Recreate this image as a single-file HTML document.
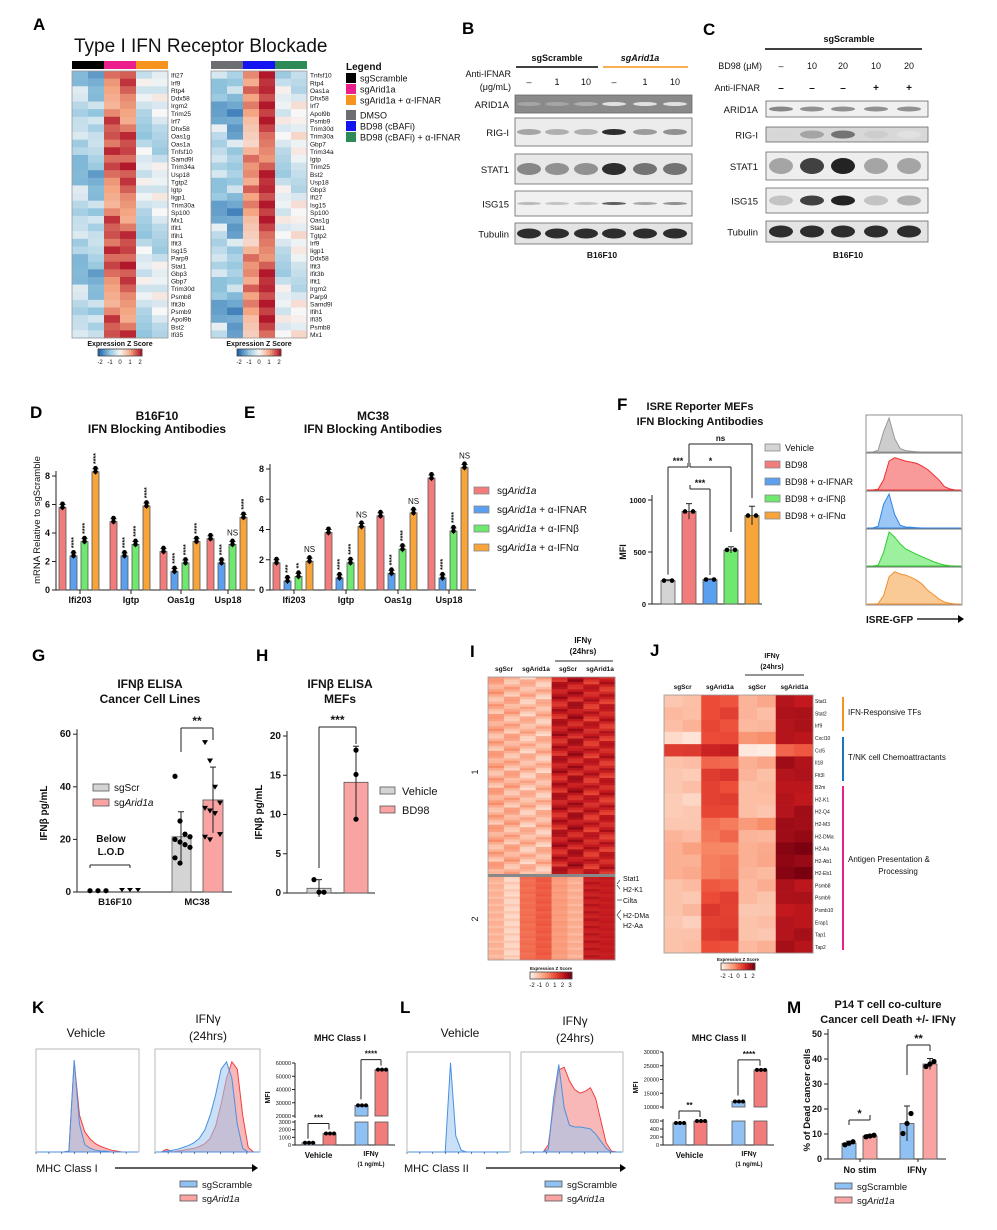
<!DOCTYPE html>
<html><head><meta charset="utf-8">
<style>
html,body{margin:0;padding:0;background:#fff;}
svg{display:block;font-family:"Liberation Sans",Arial,sans-serif;}
</style></head>
<body>
<svg id="fig" width="997" height="1230" viewBox="0 0 997 1230" xmlns="http://www.w3.org/2000/svg">
<g font-weight="bold" font-size="17">
<text x="33" y="30">A</text><text x="462" y="34">B</text><text x="703" y="35">C</text>
<text x="30" y="418">D</text><text x="244" y="418">E</text><text x="617" y="410">F</text>
<text x="32" y="661">G</text><text x="256" y="661">H</text><text x="470" y="657">I</text>
<text x="650" y="656">J</text><text x="32" y="1013">K</text><text x="400" y="1013">L</text><text x="787" y="1013">M</text>
</g>
<g id="root"></g>
</svg>
<script>
// ---------------- DATA ----------------
const A_left_genes=["Ifi27","Irf9","Rtp4","Ddx58","Irgm2","Trim25","Irf7","Dhx58","Oas1g","Oas1a","Tnfsf10","Samd9l","Trim34a","Usp18","Tgtp2","Igtp","Iigp1","Trim30a","Sp100","Mx1","Ifit1","Ifih1","Ifit3","Isg15","Parp9","Stat1","Gbp3","Gbp7","Trim30d","Psmb8","Ifit3b","Psmb9","Apol9b","Bst2","Ifi35"];
const A_right_genes=["Tnfsf10","Rtp4","Oas1a","Dhx58","Irf7","Apol9b","Psmb9","Trim30d","Trim30a","Gbp7","Trim34a","Igtp","Trim25","Bst2","Usp18","Gbp3","Ifi27","Isg15","Sp100","Oas1g","Stat1","Tgtp2","Irf9","Iigp1","Ddx58","Ifit3","Ifit3b","Ifit1","Irgm2","Parp9","Samd9l","Ifih1","Ifi35","Psmb8","Mx1"];
const A_left_colBase=[-0.8,-0.9,1.3,1.4,-0.5,-0.4];
const A_right_colBase=[-0.9,-1.1,0.9,1.6,-0.4,-0.2];
const A_jitter=[0.3,-0.4,0.1,0.5,-0.2,0.0,-0.5,0.4,0.2,-0.3,0.6,-0.1,0.1];
const I_c1_colBase=[-0.7,-0.8,-1.0,-1.0,1.9,2.0,1.7,1.7];
const I_c2_colBase=[-1.0,-1.1,0.7,0.6,-0.8,-0.9,2.3,2.2];
const I_jitter=[0.4,-0.3,0.6,-0.5,0.1,0.3,-0.2,0.5,-0.6,0.2,0.0,-0.4,0.7,-0.1,0.3];
const J_genes=["Stat1","Stat2","Irf9","Cxcl10","Ccl5","Il18","Flt3l","B2m","H2-K1","H2-Q4","H2-M3","H2-DMa","H2-Aa","H2-Ab1","H2-Eb1","Psmb8","Psmb9","Psmb10","Erap1","Tap1","Tap2"];
const J_sgScr=[-1.2,-0.9,-1.0,-1.6,1.3,-1.1,-1.2,-1.2,-1.3,-1.3,-1.2,-0.8,-0.7,-0.7,-0.7,-1.1,-1.1,-1.1,-1.2,-1.1,-1.1];
const J_sgArid=[1.0,1.0,1.1,1.0,1.8,0.6,1.3,1.2,1.2,1.1,0.4,0.3,0.1,0.2,0.2,0.8,1.0,1.4,1.2,1.3,1.0];
const J_ifnScr=[-0.8,-0.8,-0.9,-0.2,-1.9,-0.7,-0.8,-1.0,-1.0,-1.0,-0.3,-0.8,-0.7,-0.7,-0.8,-0.9,-0.9,-1.2,-1.1,-1.1,-0.9];
const J_ifnArid=[2.2,2.3,2.2,2.2,0.6,2.5,2.2,2.1,2.2,2.2,2.5,2.5,2.8,2.7,2.8,2.3,2.3,2.0,2.2,2.2,2.4];
// D / E
const D_genes=["Ifi203","Igtp","Oas1g","Usp18"];
const D_arid=[5.8,4.8,2.7,3.6], D_ifnar=[2.4,2.4,1.3,1.9], D_ifnb=[3.4,3.2,1.9,3.2], D_ifna=[8.3,5.9,3.4,5.1];
const E_arid=[1.8,3.8,4.9,7.4], E_ifnar=[0.6,0.8,1.1,0.8], E_ifnb=[0.9,1.8,2.7,3.9], E_ifna=[1.9,4.2,5.1,8.1];
const D_sig=[["****","****","****"],["****","****","****"],["****","****","****"],["****","NS","****"]];
const E_sig=[["***","**","NS"],["****","****","NS"],["****","****","NS"],["****","****","NS"]];
const yTicks8=[0,2,4,6,8];
// F
const F_groups=["Vehicle","BD98","BD98 + α-IFNAR","BD98 + α-IFNβ","BD98 + α-IFNα"];
const F_mfi=[225,890,235,520,850];
const F_err=[8,75,6,30,90];
const F_ticks=[0,500,1000];
// G
const G_cells=["B16F10","MC38"];
const G_scr=[0.5,21], G_arid=[0.5,35], G_scrSd=[0,9.5], G_aridSd=[0,12.5];
const G_ticks=[0,20,40,60];
// H
const H_groups=["Vehicle","BD98"], H_vals=[0.6,14.1], H_sd=[1.1,4.6], H_ticks=[0,5,10,15,20];
// K / L / M
const K_scr=[300,28000], K_arid=[1500,55000];
const L_scr=[550,12000], L_arid=[600,23500];
const M_scr=[6.3,14.2], M_arid=[9.2,38.0], M_scrSd=[0.8,7], M_aridSd=[0.6,2.2], M_ticks=[0,10,20,30,40,50];
// histogram shapes (relative counts along x bins)
const H_Kveh_scr=[0,0,0,0,0,0,1,100,30,8,4,2,1,1,0,0,0,0,0,0];
const H_Kveh_arid=[0,0,0,0,0,0,1,98,40,22,14,9,6,4,2,1,0,0,0,0];
const H_Kifn_scr=[0,0,1,2,3,5,7,10,15,24,40,62,90,98,80,30,4,0,0,0];
const H_Kifn_arid=[0,0,3,0,1,2,3,4,6,9,15,28,52,80,98,90,40,5,0,0];
const H_Lveh=[0,0,0,0,0,0,0,0,100,18,2,0,0,0,0,0,0,0,0,0];
const H_Lifn_scr=[0,0,0,0,0,3,60,98,50,30,28,28,27,26,20,12,4,0,0,0];
const H_Lifn_arid=[0,0,0,0,0,8,50,92,95,80,70,66,68,72,60,35,10,1,0,0];
const H_F=[[0,0,5,60,100,40,10,4,2,1,0,0,0,0,0,0,0,0],[0,0,2,30,85,95,90,85,82,78,70,60,45,30,10,3,0,0],[0,0,5,70,100,40,8,3,2,1,0,0,0,0,0,0,0,0],[0,0,2,40,100,85,65,50,42,34,27,20,13,7,3,1,0,0],[0,0,1,25,80,95,88,85,78,70,58,40,28,15,6,2,0,0]];

// ---------------- HELPERS ----------------
const NS="http://www.w3.org/2000/svg";
const root=document.getElementById('root');
function mk(tag,attrs,name,parent,txt){
  const el=document.createElementNS(NS,tag);
  for(const k in attrs) el.setAttribute(k,attrs[k]);
  
  
  if(txt!==undefined) el.textContent=txt;
  (parent||root).appendChild(el);
  return el;
}
function txt(x,y,s,name,o){o=o||{};return mk('text',Object.assign({x:x,y:y,'font-size':o.fs||10,'text-anchor':o.a||'start','font-weight':o.b?'bold':'normal',fill:o.fill||'#111','font-style':o.i?'italic':'normal'},o.tr?{transform:o.tr}:{}),name,o.p,s);}
function line(x1,y1,x2,y2,name,st,w){return mk('line',{x1:x1,y1:y1,x2:x2,y2:y2,stroke:st||'#222','stroke-width':w||1},name);}
function rect(x,y,w,h,fill,name,st){const a={x:x,y:y,width:w,height:h,fill:fill};if(st){a.stroke=st;a['stroke-width']=0.8;}return mk('rect',a,name);}
function lerpC(stops,v){
  if(v<=stops[0][0])return 'rgb('+stops[0][1].join(',')+')';
  for(let i=1;i<stops.length;i++){if(v<=stops[i][0]){const t=(v-stops[i-1][0])/(stops[i][0]-stops[i-1][0]);const a=stops[i-1][1],b=stops[i][1];return 'rgb('+[0,1,2].map(k=>Math.round(a[k]+(b[k]-a[k])*t)).join(',')+')';}}
  return 'rgb('+stops[stops.length-1][1].join(',')+')';
}
const DIV=[[-2,[33,102,172]],[-1,[146,197,222]],[0,[247,247,247]],[1,[244,165,130]],[2,[178,24,43]]];
const RED=[[-2,[254,236,226]],[-1,[252,190,165]],[0,[248,140,105]],[1,[235,75,55]],[2,[195,25,30]],[3,[120,0,15]]];
function colorbar(x,y,w,stops,lo,hi,labels,name){
  const n=20;for(let i=0;i<n;i++){rect(x+i*w/n,y,w/n+0.3,7,lerpC(stops,lo+(hi-lo)*i/(n-1)),name+'-cell');}
  rect(x,y,w,7,'none',name+'-frame','#444');
  labels.forEach((l,i)=>txt(x+2+i*(w-4)/(labels.length-1),y+15,l,name+'-tick',{fs:6,a:'middle'}));
}

// ---------------- PANEL A ----------------
txt(74,52,"Type I IFN Receptor Blockade","a-title",{fs:19});
function heatA(x0,base,genes,hdr,nm){
  const cw=16,rh=(338-71)/35;
  hdr.forEach((c,i)=>rect(x0+i*32,61,32,8,c,nm+'-group-bar'));
  genes.forEach((g,r)=>{base.forEach((b,c)=>{
    const v=b+A_jitter[(r*5+c*3+(nm.length))%A_jitter.length]+ (c<2? A_jitter[(r+c)%13]*0.6:0);
    rect(x0+c*cw,71+r*rh,cw+0.3,rh+0.3,lerpC(DIV,v),nm+'-cell');});
    txt(x0+99,71+r*rh+rh-1,g,nm+'-gene-label',{fs:6.5});});
  rect(x0,71,96,267,'none',nm+'-frame','#999');
  txt(x0+48,346,"Expression Z Score",nm+'-cbar-title',{fs:7,b:1,a:'middle'});
  colorbar(x0+26,349,44,DIV,-2,2,["-2","-1","0","1","2"],nm+'-colorbar');
}
heatA(72,A_left_colBase,A_left_genes,["#000","#ec1e8c","#f7941d"],'a-left');
heatA(211,A_right_colBase,A_right_genes,["#6d6e71","#1414f0","#2e8b57"],'a-right');
txt(346,70,"Legend","a-legend-title",{fs:10,b:1});
[["#000","sgScramble"],["#ec1e8c","sgArid1a"],["#f7941d","sgArid1a + α-IFNAR"],["#6d6e71","DMSO"],["#1414f0","BD98 (cBAFi)"],["#2e8b57","BD98 (cBAFi) + α-IFNAR"]].forEach((e,i)=>{
  const y=73+i*11+(i>2?4:0);rect(346,y,10,10,e[0],'a-legend-swatch');txt(360,y+8.5,e[1],'a-legend-entry',{fs:9});});

// ---------------- PANEL B / C (blots) ----------------
function band(x,y,w,h,dark,nm){const c=Math.round(235-dark*200);mk('ellipse',{cx:x+w/2,cy:y+h/2,rx:w/2,ry:h/2,fill:'rgb('+c+','+c+','+c+')'},nm);}
function blot(x,y,w,h,bg,lanes,dk,bh,nm){rect(x,y,w,h,bg,nm+'-blot','#666');lanes.forEach((lx,i)=>{if(dk[i]>0.02)band(lx-12,y+h/2-bh/2,24,bh,dk[i],nm+'-band');});}
const B_lanes=[529,557,586,614,645,675];
txt(557,61,"sgScramble","b-group-label",{fs:9,b:1,a:'middle'});line(516,67,598,67,'b-group-line','#000',1.5);
txt(640,61,"sgArid1a","b-group-label",{fs:9,b:1,a:'middle',i:1});line(603,67,688,67,'b-group-line','#f7941d',1.5);
txt(511,77,"Anti-IFNAR","b-treatment-label",{fs:9,a:'end'});txt(511,90,"(μg/mL)","b-treatment-unit",{fs:9,a:'end'});
["–","1","10","–","1","10"].forEach((s,i)=>txt(B_lanes[i],85,s,'b-lane-label',{fs:9,a:'middle'}));
const Brows=[["ARID1A",95,18,"#8a8a8a",[0.35,0.35,0.3,0.05,0.05,0.05],4],["RIG-I",118,28,"#ececec",[0.35,0.3,0.3,0.95,0.4,0.45],6],["STAT1",154,30,"#e8e8e8",[0.5,0.45,0.45,0.95,0.6,0.6],12],["ISG15",191,25,"#f0f0f0",[0.25,0.2,0.2,0.7,0.35,0.45],3],["Tubulin",223,21,"#e4e4e4",[0.95,0.95,0.95,0.95,0.95,0.95],10]];
Brows.forEach(r=>{txt(509,r[1]+r[2]/2+4,r[0],'b-row-label',{fs:9.5,a:'end'});blot(515,r[1],177,r[2],r[3],B_lanes,r[4],r[5],'b-'+r[0].toLowerCase());});
txt(602,258,"B16F10","b-cell-line",{fs:8.5,b:1,a:'middle'});
const C_lanes=[781,812,843,876,909];
txt(849,42,"sgScramble","c-group-label",{fs:9,b:1,a:'middle'});line(765,49,922,49,'c-group-line','#000',1.5);
txt(762,69,"BD98 (μM)","c-treat1",{fs:9,a:'end'});txt(760,91,"Anti-IFNAR","c-treat2",{fs:9,a:'end'});
["–","10","20","10","20"].forEach((s,i)=>txt(C_lanes[i],69,s,'c-lane-dose',{fs:9,a:'middle'}));
["–","–","–","+","+"].forEach((s,i)=>txt(C_lanes[i],91,s,'c-lane-ifnar',{fs:10,a:'middle',b:1}));
const Crows=[["ARID1A",101,16,"#f0f0f0",[0.5,0.45,0.45,0.45,0.45],5],["RIG-I",127,15,"#d8d8d8",[0.1,0.35,0.6,0.15,0.05],8],["STAT1",152,28,"#eeeeee",[0.35,0.85,1.0,0.35,0.35],16],["ISG15",188,25,"#eeeeee",[0.2,0.85,1.0,0.2,0.3],10],["Tubulin",221,21,"#e4e4e4",[0.95,0.95,0.95,0.95,0.95],12]];
Crows.forEach(r=>{txt(758,r[1]+r[2]/2+4,r[0],'c-row-label',{fs:9.5,a:'end'});blot(766,r[1],162,r[2],r[3],C_lanes,r[4],r[5],'c-'+r[0].toLowerCase());});
txt(848,258,"B16F10","c-cell-line",{fs:8.5,b:1,a:'middle'});

// ---------------- bar helpers ----------------
const COL={pink:"#f27b7b",blue:"#5aa0ee",green:"#6ee86e",orange:"#f7a53b",gray:"#d4d4d4",lpink:"#f9a3a3",lblue:"#8fc1f4"};
function yaxis(x,y0,sc,ticks,nm,fs){line(x,sc(ticks[ticks.length-1])-5,x,y0,nm+'-line');ticks.forEach(t=>{line(x-4,sc(t),x,sc(t),nm+'-tick');txt(x-6,sc(t)+3,String(t),nm+'-label',{fs:fs||9,a:'end',b:1});});}
function bar(x,w,v,sc,y0,fill,nm){return rect(x,sc(v),w,y0-sc(v),fill,nm,'#555');}
function dot(x,y,nm,r){mk('circle',{cx:x,cy:y,r:r||2.6,fill:'#000'},nm);}
function errb(x,v,sd,sc,nm){line(x,sc(v-sd),x,sc(v+sd),nm);line(x-3,sc(v+sd),x+3,sc(v+sd),nm);}
function bracket(x1,x2,y,yl1,yl2,s,nm,fs){line(x1,yl1,x1,y,nm);line(x1,y,x2,y,nm);line(x2,y,x2,yl2,nm);txt((x1+x2)/2,y-3,s,nm+'-label',{fs:fs||11,a:'middle',b:1});}

// ---------------- PANEL D / E ----------------
function groupedChart(ax,y0,top8,starts,series,sigs,nm,title1,title2,tx){
  const sc=v=>y0-(y0-top8)*v/8;
  txt(tx,433-13,title1,nm+'-title',{fs:12,b:1,a:'middle'});txt(tx,433,title2,nm+'-title',{fs:12,b:1,a:'middle'});
  yaxis(ax,y0,sc,yTicks8,nm+'-y-axis',9);
  line(ax,y0,starts[3]+48,y0,nm+'-x-axis');
  const cols=[COL.pink,COL.blue,COL.green,COL.orange];
  D_genes.forEach((g,gi)=>{
    series.forEach((s,si)=>{const x=starts[gi]+si*11;bar(x,7,s[gi],sc,y0,cols[si],nm+'-bar-'+g);
      errb(x+3.5,s[gi],0.2,sc,nm+'-error');dot(x+3.5,sc(s[gi]),nm+'-point',2.3);dot(x+3.5,sc(s[gi]+0.25),nm+'-point',2.3);
      if(si>0){const lab=sigs[gi][si-1];if(lab==="NS")txt(x+3.5,sc(s[gi]+0.4)-3,lab,nm+'-sig',{fs:8,a:'middle'});else txt(x+6,sc(s[gi]+0.4)-2,lab,nm+'-sig',{fs:7,b:1,tr:'rotate(-90 '+(x+6)+' '+(sc(s[gi]+0.4)-2)+')'});}});
    line(starts[gi]+21,y0,starts[gi]+21,y0+4,nm+'-x-tick');
    txt(starts[gi]+21,y0+13,g,nm+'-x-label',{fs:9,b:1,a:'middle'});});
}
txt(40,520,"mRNA Relative to sgScramble","d-y-axis-title",{fs:9.5,a:'middle',tr:'rotate(-90 40 520)'});
groupedChart(56,590,476,[59,110,160,207],[D_arid,D_ifnar,D_ifnb,D_ifna],D_sig,'d',"B16F10","IFN Blocking Antibodies",157);
groupedChart(270,590,469,[273,325,377,428],[E_arid,E_ifnar,E_ifnb,E_ifna],E_sig,'e',"MC38","IFN Blocking Antibodies",373);
[[COL.pink,"sgArid1a"],[COL.blue,"sgArid1a + α-IFNAR"],[COL.green,"sgArid1a + α-IFNβ"],[COL.orange,"sgArid1a + α-IFNα"]].forEach((e,i)=>{
  rect(474,487+i*19,15,7,e[0],'de-legend-swatch','#888');const t=txt(497,494+i*19,"sg",'de-legend-entry',{fs:10});
  const ts=document.createElementNS(NS,'tspan');ts.setAttribute('font-style','italic');ts.textContent="Arid1a";t.appendChild(ts);
  const ts2=document.createElementNS(NS,'tspan');ts2.textContent=e[1].slice(8);t.appendChild(ts2);});

// ---------------- PANEL F ----------------
txt(700,410,"ISRE Reporter MEFs","f-title",{fs:11,b:1,a:'middle'});txt(700,425,"IFN Blocking Antibodies","f-title",{fs:11,b:1,a:'middle'});
(function(){const y0=604,sc=v=>y0-v*0.104;yaxis(652,y0,sc,F_ticks,'f-y-axis',7.5);line(652,y0,762,y0,'f-x-axis');
 txt(626,552,"MFI","f-y-axis-title",{fs:9,b:1,a:'middle',tr:'rotate(-90 626 552)'});
 const fc=[COL.gray,COL.pink,COL.blue,COL.green,COL.orange];
 F_groups.forEach((g,i)=>{const x=661+i*21;bar(x,14,F_mfi[i],sc,y0,fc[i],'f-bar');errb(x+7,F_mfi[i],F_err[i],sc,'f-error');
   dot(x+3,sc(F_mfi[i]),'f-point',2.3);dot(x+11,sc(F_mfi[i]),'f-point',2.3);
   rect(765,444+i*17,15,7,fc[i],'f-legend-swatch','#888');txt(785,451+i*17,g,'f-legend-entry',{fs:9});});
 bracket(668,688,467,sc(F_mfi[0])-6,463,"***",'f-sig-bracket',9);
 bracket(690,731,467,463,532,"*",'f-sig-bracket',9);
 bracket(690,710,489,485,575,"***",'f-sig-bracket',9);
 bracket(689,752,444,463,498,"ns",'f-sig-bracket',8);})();
function hist(x,y,w,h,arr,stroke,fill,nm,op){
  const n=arr.length,mx=100;let d='M'+x+','+(y+h);
  arr.forEach((v,i)=>{d+=' L'+(x+i*w/(n-1)).toFixed(1)+','+(y+h-v/mx*h*0.92).toFixed(1);});d+=' L'+(x+w)+','+(y+h)+' Z';
  mk('path',{d:d,fill:fill,'fill-opacity':op||0.6,stroke:stroke,'stroke-width':1},nm);}
(function(){const fc=[["#999","#c8c8c8"],["#f03030","#f78f8f"],["#3385e6","#8fc1f4"],["#2fcc2f","#92ee92"],["#f29030","#f8c48a"]];
 rect(866,415,96,190,'#fff','f-hist-frame','#777');
 H_F.forEach((a,i)=>{hist(867,415+i*38,94,37,a,fc[i][0],fc[i][1],'f-histogram',0.9);if(i>0)line(866,415+i*38,962,415+i*38,'f-hist-divider','#777');});
 txt(866,623,"ISRE-GFP","f-x-axis-title",{fs:10,b:1});line(917,619,958,619,'f-axis-arrow','#000',1.2);mk('path',{d:'M958,615 L964,619 L958,623 Z',fill:'#000'},'f-arrow-head');})();

// ---------------- PANEL G ----------------
txt(150,688,"IFNβ ELISA","g-title",{fs:12,b:1,a:'middle'});txt(150,703,"Cancer Cell Lines","g-title",{fs:12,b:1,a:'middle'});
(function(){const y0=892,sc=v=>y0-v*2.63;yaxis(77,y0,sc,G_ticks,'g-y-axis',10);line(77,y0,232,y0,'g-x-axis');
 txt(47,813,"IFNβ pg/mL","g-y-axis-title",{fs:10,b:1,a:'middle',tr:'rotate(-90 47 813)'});
 [0,1,2].forEach(k=>dot(90+k*8,sc(0.5),'g-point-b16-scr'));[0,1,2].forEach(k=>mk('path',{d:`M${122+k*8-3},${y0-4} l6,0 l-3,4 z`,fill:'#000'},'g-point-b16-arid'));
 bracket(90,130,865,868,868,"",'g-lod-bracket');txt(111,842,"Below","g-lod-label",{fs:10,b:1,a:'middle'});txt(111,855,"L.O.D","g-lod-label",{fs:10,b:1,a:'middle'});
 bar(172,19,G_scr[1],sc,y0,COL.gray,'g-bar-mc38-scr');bar(203,20,G_arid[1],sc,y0,COL.lpink,'g-bar-mc38-arid');
 errb(181,G_scr[1],G_scrSd[1],sc,'g-error');errb(213,G_arid[1],G_aridSd[1],sc,'g-error');
 [44,27,22,21,20,19,18,17,13,11].forEach((v,k)=>dot(175+(k%4)*5,sc(v),'g-point-mc38-scr'));
 [57,50,40,34,32,31,30,22,21,20].forEach((v,k)=>mk('path',{d:`M${205+(k%4)*5-3},${sc(v)-2} l6,0 l-3,5 z`,fill:'#000'},'g-point-mc38-arid'));
 bracket(181,213,728,752,740,"**",'g-sig-bracket',12);
 txt(115,905,"B16F10","g-x-label",{fs:9.5,b:1,a:'middle'});txt(197,905,"MC38","g-x-label",{fs:9.5,b:1,a:'middle'});
 rect(93,784,16,7,COL.gray,'g-legend-swatch','#555');txt(114,791,"sgScr",'g-legend-entry',{fs:10});
 rect(93,799,16,7,COL.lpink,'g-legend-swatch','#555');const t=txt(114,806,"sg",'g-legend-entry',{fs:10});const ts=document.createElementNS(NS,'tspan');ts.setAttribute('font-style','italic');ts.textContent="Arid1a";t.appendChild(ts);})();

// ---------------- PANEL H ----------------
txt(340,688,"IFNβ ELISA","h-title",{fs:12,b:1,a:'middle'});txt(340,703,"MEFs","h-title",{fs:12,b:1,a:'middle'});
(function(){const y0=893,sc=v=>y0-v*7.85;yaxis(287,y0,sc,H_ticks,'h-y-axis',10);line(287,y0,375,y0,'h-x-axis');
 txt(262,812,"IFNβ pg/mL","h-y-axis-title",{fs:10,b:1,a:'middle',tr:'rotate(-90 262 812)'});
 const hc=[COL.gray,COL.lpink];
 H_groups.forEach((g,i)=>{const x=[307,344][i];bar(x,24,H_vals[i],sc,y0,hc[i],'h-bar');errb(x+12,H_vals[i],H_sd[i],sc,'h-error');
   rect(380,787+i*19,15,7,hc[i],'h-legend-swatch','#555');txt(402,795+i*19,g,'h-legend-entry',{fs:11});});
 [1.7,0.1,0.1].forEach((v,k)=>dot(314+k*5,sc(v),'h-point-vehicle'));[18.2,15.1,9.4].forEach(v=>dot(356,sc(v),'h-point-bd98'));
 bracket(319,356,727,868,744,"***",'h-sig-bracket',12);})();

// ---------------- PANEL I ----------------
(function(){const x0=488,cw=15.9;
 txt(583,643,"IFNγ","i-ifn-label",{fs:8,b:1,a:'middle'});txt(583,654,"(24hrs)","i-ifn-label",{fs:8,b:1,a:'middle'});line(555,661,613,661,'i-ifn-line','#555',1.2);
 ["sgScr","sgArid1a","sgScr","sgArid1a"].forEach((s,i)=>txt(x0+16+i*32,671,s,'i-column-label',{fs:6.5,b:1,a:'middle'}));
 const n1=80,h1=(874-677)/n1;for(let r=0;r<n1;r++)I_c1_colBase.forEach((b,c)=>rect(x0+c*cw,677+r*h1,cw+0.3,h1+0.3,lerpC(RED,b+I_jitter[(r*7+c*4)%15]),'i-cell-c1'));
 const n2=34,h2=(960-877)/n2;for(let r=0;r<n2;r++)I_c2_colBase.forEach((b,c)=>rect(x0+c*cw,877+r*h2,cw+0.3,h2+0.3,lerpC(RED,b+I_jitter[(r*5+c*3)%15]*0.8),'i-cell-c2'));
 rect(x0,874,127,3,'#888','i-cluster-split');rect(x0,677,127,283,'none','i-frame','#999');
 txt(478,772,"1","i-cluster-label",{fs:9,a:'middle',tr:'rotate(-90 478 772)'});txt(478,919,"2","i-cluster-label",{fs:9,a:'middle',tr:'rotate(-90 478 919)'});
 [["Stat1",881],["H2-K1",892],["Cilta",903],["H2-DMa",918],["H2-Aa",928]].forEach(g=>txt(623,g[1],g[0],'i-gene-callout',{fs:7}));
 mk('path',{d:'M617,884 l3,-4 M617,885 l3,4 M617,900 l5,0 M621,910 l-4,5 l4,5',stroke:'#444',fill:'none','stroke-width':0.7},'i-callout-lines');
 txt(551,970,"Expression Z Score","i-cbar-title",{fs:4.5,b:1,a:'middle'});colorbar(530,972,42,RED,-2,3,["-2","-1","0","1","2","3"],'i-colorbar');})();

// ---------------- PANEL J ----------------
(function(){const x0=664,cw=(813-664)/8,y0=695,rh=(953-695)/21;
 txt(772,658,"IFNγ","j-ifn-label",{fs:7,b:1,a:'middle'});txt(772,669,"(24hrs)","j-ifn-label",{fs:7,b:1,a:'middle'});line(745,675,804,675,'j-ifn-line','#555',1.2);
 ["sgScr","sgArid1a","sgScr","sgArid1a"].forEach((s,i)=>txt(x0+cw+i*2*cw,689,s,'j-column-label',{fs:6.5,b:1,a:'middle'}));
 const groups=[J_sgScr,J_sgArid,J_ifnScr,J_ifnArid];
 J_genes.forEach((g,r)=>{groups.forEach((arr,gi)=>{[0,1].forEach(k=>rect(x0+(gi*2+k)*cw,y0+r*rh,cw+0.3,rh+0.3,lerpC(RED,arr[r]+(k?I_jitter[(r+gi)%15]*0.4:0)),'j-cell-'+g));});
   txt(815,y0+r*rh+rh/2+2,g,'j-gene-label',{fs:5});});
 rect(x0,y0,149,258,'none','j-frame','#999');
 [[697,731,'#f7941d',"IFN-Responsive TFs",715],[737,781,'#1b75bc',"T/NK cell Chemoattractants",760],[786,950,'#ec1e8c',"Antigen Presentation &",862]].forEach(a=>{
   rect(842,a[0],2,a[1]-a[0],a[2],'j-category-bar');txt(848,a[4],a[3],'j-category-label',{fs:8});});
 txt(898,874,"Processing",'j-category-label',{fs:8,a:'middle'});
 txt(738,961,"Expression Z Score","j-cbar-title",{fs:4.5,b:1,a:'middle'});colorbar(721,963,34,RED,-2,3,["-2","-1","0","1","2"],'j-colorbar');})();

// ---------------- PANEL K / L histograms ----------------
function histPanel(x,y,w,h,a,b,nm){rect(x,y,w,h,'#fff',nm+'-frame','#aaa');
  if(b)hist(x+1,y+3,w-2,h-3,b,'#f04040','#f5a0a0',nm+'-arid',0.75);
  hist(x+1,y+3,w-2,h-3,a,'#4a90e0','#9cc6f0',nm+'-scr',0.55);
  for(let i=0;i<8;i++)line(x+i*w/8,y+h,x+i*w/8,y+h+2,nm+'-x-tick','#333',0.6);}
txt(86,1037,"Vehicle","k-veh-title",{fs:12,a:'middle'});txt(208,1023,"IFNγ","k-ifn-title",{fs:12,a:'middle'});txt(208,1040,"(24hrs)","k-ifn-title",{fs:12,a:'middle'});
histPanel(36,1049,103,103,H_Kveh_scr,H_Kveh_arid,'k-vehicle-hist');histPanel(155,1049,105,103,H_Kifn_scr,H_Kifn_arid,'k-ifn-hist');
txt(36,1172,"MHC Class I","k-x-axis-title",{fs:11});line(115,1168,254,1168,'k-axis-arrow','#000',1.2);mk('path',{d:'M252,1164 l6,4 l-6,4 z',fill:'#000'},'k-arrow-head');
txt(460,1037,"Vehicle","l-veh-title",{fs:12,a:'middle'});txt(575,1025,"IFNγ","l-ifn-title",{fs:12,a:'middle'});txt(575,1042,"(24hrs)","l-ifn-title",{fs:12,a:'middle'});
histPanel(407,1052,103,100,H_Lveh,null,'l-vehicle-hist');histPanel(521,1052,102,100,H_Lifn_scr,H_Lifn_arid,'l-ifn-hist');
txt(404,1172,"MHC Class II","l-x-axis-title",{fs:11});line(486,1168,622,1168,'l-axis-arrow','#000',1.2);mk('path',{d:'M620,1164 l6,4 l-6,4 z',fill:'#000'},'l-arrow-head');
function legendSA(x,y,nm){rect(x,y,17,6,COL.lblue,nm+'-swatch','#555');txt(x+22,y+7,"sgScramble",nm+'-entry',{fs:9.5});
  rect(x,y+14,17,6,COL.lpink,nm+'-swatch','#555');const t=txt(x+22,y+21,"sg",nm+'-entry',{fs:9.5});const ts=document.createElementNS(NS,'tspan');ts.setAttribute('font-style','italic');ts.textContent="Arid1a";t.appendChild(ts);}
legendSA(180,1181,'k-legend');legendSA(545,1181,'l-legend');

// broken-axis MFI bars
function brokenChart(ax,xs,scr,arid,lowTicks,lowMax,lowTop,upTicks,upMin,upMax,upBot,upTop,nm,title,tx,sigs){
  const y0=1145;const lo=v=>y0-(y0-lowTop)*v/lowMax;const up=v=>upBot-(upBot-upTop)*(v-upMin)/(upMax-upMin);
  txt(tx,1041,title,nm+'-title',{fs:9,b:1,a:'middle'});
  line(ax,lowTop-2,ax,y0,nm+'-y-axis');line(ax,upTop,ax,upBot+2,nm+'-y-axis');
  lowTicks.forEach(t=>{line(ax-3,lo(t),ax,lo(t),nm+'-y-tick');txt(ax-4,lo(t)+2,String(t),nm+'-y-label',{fs:5.5,a:'end'});});
  upTicks.forEach(t=>{line(ax-3,up(t),ax,up(t),nm+'-y-tick');txt(ax-4,up(t)+2,String(t),nm+'-y-label',{fs:5.5,a:'end'});});
  txt(ax-25,(upTop+upBot)/2+8,"MFI",nm+'-y-axis-title',{fs:7,b:1,a:'middle',tr:'rotate(-90 '+(ax-25)+' '+((upTop+upBot)/2+8)+')'});
  line(ax,y0,xs[3]+20,y0,nm+'-x-axis');
  const vals=[scr[0],arid[0],scr[1],arid[1]],cols=[COL.lblue,COL.pink,COL.lblue,COL.pink];
  vals.forEach((v,i)=>{const x=xs[i];
    if(v<=lowMax){rect(x,lo(v),13,y0-lo(v),cols[i],nm+'-bar','#555');dot(x+3,lo(v),nm+'-point',2);dot(x+7,lo(v),nm+'-point',2);dot(x+11,lo(v),nm+'-point',2);}
    else{rect(x,lowTop,13,y0-lowTop,cols[i],nm+'-bar','#555');rect(x,up(v),13,upBot-up(v),cols[i],nm+'-bar','#555');dot(x+3,up(v),nm+'-point',2);dot(x+7,up(v),nm+'-point',2);dot(x+11,up(v),nm+'-point',2);}});
  const tp=v=>v<=lowMax?lo(v):up(v);
  bracket(xs[0]+6,xs[1]+6,tp(Math.max(vals[0],vals[1]))-10,tp(vals[0])-4,tp(vals[1])-4,sigs[0],nm+'-sig',8);
  bracket(xs[2]+6,xs[3]+6,tp(vals[3])-10,tp(vals[2])-6,tp(vals[3])-4,sigs[1],nm+'-sig',8);
  txt((xs[0]+xs[1])/2+6,1158,"Vehicle",nm+'-x-label',{fs:8,b:1,a:'middle'});txt((xs[2]+xs[3])/2+6,1156,"IFNγ",nm+'-x-label',{fs:7,b:1,a:'middle'});txt((xs[2]+xs[3])/2+6,1166,"(1 ng/mL)",nm+'-x-label',{fs:6,b:1,a:'middle'});
}
brokenChart(295,[302,323,355,375],K_scr,K_arid,[0,1000,2000,3000],3000,1122,[20000,30000,40000,50000,60000],20000,60000,1116,1063,'k-mfi',"MHC Class I",340,["***","****"]);
brokenChart(663,[673,694,732,754],L_scr,L_arid,[0,200,400,600],600,1121,[10000,15000,20000,25000,30000],10000,30000,1107,1052,'l-mfi',"MHC Class II",719,["**","****"]);

// ---------------- PANEL M ----------------
txt(888,1008,"P14 T cell co-culture","m-title",{fs:11,b:1,a:'middle'});txt(888,1023,"Cancer cell Death +/- IFNγ","m-title",{fs:11,b:1,a:'middle'});
(function(){const y0=1159,sc=v=>y0-v*2.5;yaxis(828,y0,sc,M_ticks,'m-y-axis',9);line(828,y0,946,y0,'m-x-axis');
 txt(810,1100,"% of Dead cancer cells","m-y-axis-title",{fs:9.5,b:1,a:'middle',tr:'rotate(-90 810 1100)'});
 const xs=[[842,863],[900,923]];
 [0,1].forEach(g=>{bar(xs[g][0],14,M_scr[g],sc,y0,COL.lblue,'m-bar-scr');bar(xs[g][1],14,M_arid[g],sc,y0,COL.lpink,'m-bar-arid');
   errb(xs[g][0]+7,M_scr[g],M_scrSd[g],sc,'m-error');errb(xs[g][1]+7,M_arid[g],M_aridSd[g],sc,'m-error');
   [-4,0,4].forEach((d,k)=>{dot(xs[g][0]+7+d,sc(M_scr[g]+(k-1)*(g?4:0.6)),'m-point-scr');dot(xs[g][1]+7+d,sc(M_arid[g]+(k-1)*(g?1:0.3)),'m-point-arid');});
   line(xs[g][0]+18,y0,xs[g][0]+18,y0+3,'m-x-tick');});
 bracket(849,870,1120,1125,1115,"*",'m-sig-bracket',11);bracket(907,930,1045,1075,1051,"**",'m-sig-bracket',11);
 txt(860,1173,"No stim","m-x-label",{fs:9,b:1,a:'middle'});txt(917,1173,"IFNγ","m-x-label",{fs:9,b:1,a:'middle'});
 legendSA(835,1183,'m-legend');})();
</script>
</body></html>
